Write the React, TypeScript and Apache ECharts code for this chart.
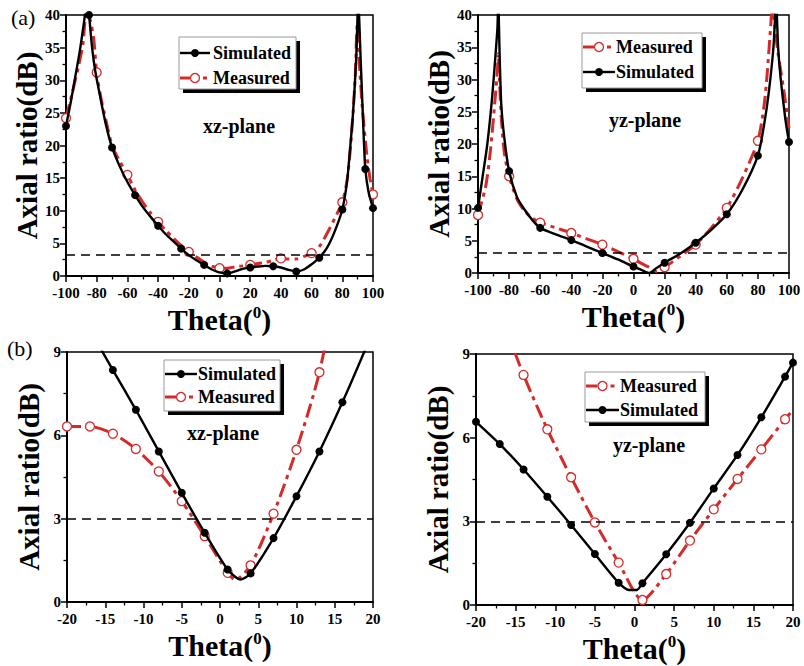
import React, { useEffect, useRef } from 'react';
import * as echarts from 'echarts';

const RED = '#d42a2a';
const BLACK = '#000000';
const FONT = '"Liberation Serif", "Times New Roman", serif';

// (a) xz-plane, wide range
const xzSimTheta = [-100, -97, -94, -91, -88.5, -86.3, -85, -83, -81, -78, -74, -70, -65, -60, -55, -50, -45, -40, -35, -30, -25, -20, -15, -10, -5, 0, 5, 10, 15, 20, 25, 30, 35, 40, 45, 50, 55, 60, 65, 70, 75, 80, 83, 85, 87, 89, 90.4, 92, 94, 95, 97, 100];
const xzSimAR = [23.0, 26.5, 30.5, 34.5, 38.5, 42, 40, 35, 31.5, 27.8, 23.2, 19.7, 16.8, 14.4, 12.4, 10.6, 9.1, 7.7, 6.4, 5.3, 4.2, 3.2, 2.4, 1.7, 1.0, 0.55, 0.4, 0.7, 1.1, 1.3, 1.45, 1.55, 1.5, 1.3, 0.95, 0.7, 1.0, 1.8, 2.8, 4.3, 6.8, 10.2, 14.3, 19.3, 25, 33, 42, 33, 21, 16.4, 13, 10.4];
const xzSimMarks = [-100, -85, -70, -55, -40, -25, -10, 5, 20, 35, 50, 65, 80, 95, 100];

const xzMeaTheta = [-100, -96, -92, -89, -86.5, -84, -82, -80, -77, -74, -70, -65, -60, -55, -50, -45, -40, -35, -30, -25, -20, -15, -10, -5, 0, 5, 10, 15, 20, 25, 30, 35, 40, 45, 50, 55, 60, 65, 70, 75, 80, 83, 85, 87, 88.5, 89.7, 91, 93, 96, 98, 100];
const xzMeaAR = [24.2, 28, 32, 35.5, 41, 39, 36.5, 31.2, 27, 23.9, 20, 17.6, 15.5, 13.2, 11.3, 9.7, 8.3, 7.0, 5.8, 4.7, 3.7, 2.9, 2.1, 1.5, 1.2, 1.2, 1.4, 1.55, 1.7, 1.9, 2.1, 2.4, 2.7, 2.6, 2.6, 3.0, 3.5, 4.5, 6.5, 8.8, 11.3, 14.5, 18.8, 25, 31, 38.5, 33, 26, 18.5, 15, 12.5];
const xzMeaMarks = [-100, -80, -60, -40, -20, 0, 20, 40, 60, 80, 100];

// (a) yz-plane, wide range
const yzSimTheta = [-100, -97, -94, -91, -89, -87.5, -87, -86, -85, -83, -80, -75, -70, -65, -60, -50, -40, -30, -20, -10, 0, 5, 10, 15, 20, 30, 40, 50, 60, 70, 80, 84, 87, 90, 91.7, 93, 94.5, 97.7, 100];
const yzSimAR = [10.1, 15, 20, 27, 33, 38, 42, 33, 26, 20.8, 15.8, 11.8, 9.8, 8.2, 7.0, 6.0, 5.1, 4.1, 3.1, 2.1, 1.0, 0.5, 0, 0.8, 1.6, 3.0, 4.7, 6.7, 9.1, 12.9, 18.2, 23, 28, 35, 42, 35, 30.5, 23.8, 20.3];
const yzSimMarks = [-100, -80, -60, -40, -20, 0, 20, 40, 60, 80, 100];

const yzMeaTheta = [-100, -95, -92, -89, -87.5, -87, -86, -85, -83, -80, -75, -70, -65, -60, -50, -40, -30, -20, -10, 0, 5, 10, 15, 20, 30, 40, 50, 60, 70, 80, 84, 86, 88, 89.5, 91, 93, 96.6, 100];
const yzMeaAR = [9.0, 13.5, 19, 27, 31.5, 34, 29, 24, 18.5, 15.0, 11.5, 9.6, 8.5, 7.8, 7.0, 6.2, 5.3, 4.4, 3.3, 2.2, 1.5, 0.9, 0.25, 0.9, 2.6, 4.4, 7.0, 10.1, 14.7, 20.5, 26, 31, 37.5, 42, 38, 34, 28.4, 22.5];
const yzMeaMarks = [-100, -80, -60, -40, -20, 0, 20, 40, 60, 80];

// (b) xz-plane, narrow range
const xzSimThetaB = [-20, -17, -14, -11, -8, -5, -2, 1, 2.7, 4, 7, 10, 13, 16, 19, 20];
const xzSimARB = [11.3, 9.8, 8.35, 6.92, 5.42, 3.93, 2.49, 1.17, 0.81, 1.03, 2.30, 3.81, 5.42, 7.19, 9.1, 9.8];
const xzSimMarksB = [-20, -17, -14, -11, -8, -5, -2, 1, 4, 7, 10, 13, 16, 19];

const xzMeaThetaB = [-20, -17, -14, -11, -8, -5, -2, 1, 2, 4, 7, 10, 13, 16];
const xzMeaARB = [6.32, 6.32, 6.06, 5.51, 4.70, 3.63, 2.37, 1.05, 0.8, 1.32, 3.18, 5.48, 8.27, 12.5];
const xzMeaMarksB = [-20, -17, -14, -11, -8, -5, -2, 1, 4, 7, 10, 13, 16];

// (b) yz-plane, narrow range
const yzSimThetaB = [-20, -17, -14, -11, -8, -5, -2, -0.7, 0.3, 1, 4, 7, 10, 13, 16, 19, 20];
const yzSimARB = [6.57, 5.77, 4.86, 3.88, 2.87, 1.83, 0.80, 0.54, 0.54, 0.78, 1.82, 2.95, 4.18, 5.38, 6.73, 8.19, 8.69];
const yzSimMarksB = [-20, -17, -14, -11, -8, -5, -2, 1, 4, 7, 10, 13, 16, 19, 20];

const yzMeaThetaB = [-20, -17, -14, -11, -8, -5, -2, 1, 4, 7, 10, 13, 16, 19, 20];
const yzMeaARB = [12.8, 10.5, 8.25, 6.30, 4.58, 2.96, 1.52, 0.18, 1.11, 2.31, 3.43, 4.52, 5.58, 6.66, 7.0];
const yzMeaMarksB = [-20, -17, -14, -11, -8, -5, -2, 1, 4, 7, 10, 13, 16, 19];

const thresholdWide = 3.2;
const thresholdNarrow = 3;

const grids = [
  { left: 66, top: 15, width: 307, height: 261 },
  { left: 478, top: 15, width: 311, height: 258 },
  { left: 67, top: 352, width: 306, height: 250 },
  { left: 476, top: 354, width: 317, height: 251 },
];

function build(theta: number[], ar: number[], marks: number[]) {
  return theta.map((t, i) => {
    const item: any = { value: [t, ar[i]] };
    if (!marks.includes(t)) item.symbol = 'none';
    return item;
  });
}

function simSeries(idx: number, theta: number[], ar: number[], marks: number[], threshold: number) {
  return {
    type: 'line',
    name: 'Simulated',
    xAxisIndex: idx,
    yAxisIndex: idx,
    data: build(theta, ar, marks),
    smooth: 0.25,
    symbol: 'circle',
    symbolSize: 8,
    lineStyle: { color: BLACK, width: 2.4 },
    itemStyle: { color: BLACK },
    clip: true,
    z: 3,
    markLine: {
      silent: true,
      symbol: 'none',
      label: { show: false },
      lineStyle: { color: BLACK, type: [9, 6], width: 1.6 },
      data: [{ yAxis: threshold }],
    },
  };
}

function meaSeries(idx: number, theta: number[], ar: number[], marks: number[]) {
  return {
    type: 'line',
    name: 'Measured',
    xAxisIndex: idx,
    yAxisIndex: idx,
    data: build(theta, ar, marks),
    smooth: 0.25,
    symbol: 'circle',
    symbolSize: 9,
    lineStyle: { color: RED, width: 3, type: [14, 5, 4, 5] },
    itemStyle: { color: '#ffffff', borderColor: RED, borderWidth: 1.3 },
    clip: true,
    z: 2,
  };
}

function xAxis(idx: number, min: number, max: number, interval: number) {
  return {
    type: 'value',
    gridIndex: idx,
    min,
    max,
    interval,
    name: 'Theta({s|0})',
    nameLocation: 'middle',
    nameGap: 28,
    nameTextStyle: {
      color: BLACK,
      fontFamily: FONT,
      fontWeight: 'bold',
      fontSize: 30,
      verticalAlign: 'top',
      rich: { s: { fontSize: 17, fontFamily: FONT, fontWeight: 'bold', color: BLACK, verticalAlign: 'top' } },
    },
    axisLine: { onZero: false, lineStyle: { color: BLACK, width: 2 } },
    axisTick: { show: true, inside: false, length: 6, lineStyle: { color: BLACK, width: 1.5 } },
    minorTick: { show: true, splitNumber: 2, length: 3.5, lineStyle: { color: BLACK, width: 1.3 } },
    axisLabel: { color: BLACK, fontFamily: FONT, fontWeight: 700, fontSize: 15, margin: 9 },
    splitLine: { show: false },
  };
}

function yAxis(idx: number, min: number, max: number, interval: number) {
  return {
    type: 'value',
    gridIndex: idx,
    min,
    max,
    interval,
    name: 'Axial ratio(dB)',
    nameLocation: 'middle',
    nameGap: 24,
    nameTextStyle: { color: BLACK, fontFamily: FONT, fontWeight: 'bold', fontSize: 29 },
    axisLine: { onZero: false, lineStyle: { color: BLACK, width: 2 } },
    axisTick: { show: true, inside: false, length: 6, lineStyle: { color: BLACK, width: 1.5 } },
    minorTick: { show: true, splitNumber: 2, length: 3.5, lineStyle: { color: BLACK, width: 1.3 } },
    axisLabel: { color: BLACK, fontFamily: FONT, fontWeight: 700, fontSize: 15, margin: 6 },
    splitLine: { show: false },
  };
}

type LegendEntry = { label: string; kind: 'sim' | 'mea' };

function legend(x: number, y: number, w: number, h: number, entries: LegendEntry[], rowY: number[], lineX: [number, number], textX: number) {
  const els: any[] = [
    { type: 'rect', shape: { x: x + 4, y: y + 4, width: w, height: h }, style: { fill: BLACK }, z: 10 },
    { type: 'rect', shape: { x, y, width: w, height: h }, style: { fill: '#ffffff', stroke: '#9a9a9a', lineWidth: 1 }, z: 11 },
  ];
  entries.forEach((e, i) => {
    const ly = rowY[i];
    const cx = (lineX[0] + lineX[1]) / 2;
    if (e.kind === 'sim') {
      els.push({ type: 'line', shape: { x1: lineX[0], y1: ly, x2: lineX[1], y2: ly }, style: { stroke: BLACK, lineWidth: 2.4 }, z: 12 });
      els.push({ type: 'circle', shape: { cx, cy: ly, r: 4 }, style: { fill: BLACK }, z: 13 });
    } else {
      els.push({ type: 'line', shape: { x1: lineX[0], y1: ly, x2: cx - 5, y2: ly }, style: { stroke: RED, lineWidth: 3 }, z: 12 });
      els.push({ type: 'line', shape: { x1: cx + 8, y1: ly, x2: cx + 12, y2: ly }, style: { stroke: RED, lineWidth: 3 }, z: 12 });
      els.push({ type: 'circle', shape: { cx, cy: ly, r: 4.5 }, style: { fill: '#ffffff', stroke: RED, lineWidth: 1.3 }, z: 13 });
    }
    els.push({
      type: 'text',
      x: textX,
      y: ly,
      style: { text: e.label, fill: BLACK, font: `bold 18px ${FONT}`, verticalAlign: 'middle' },
      z: 13,
    });
  });
  return els;
}

function plainText(text: string, x: number, y: number, size: number, bold: boolean, align: string) {
  return {
    type: 'text',
    x,
    y,
    style: {
      text,
      fill: BLACK,
      font: `${bold ? 'bold ' : ''}${size}px ${FONT}`,
      align,
      verticalAlign: 'middle',
    },
    z: 14,
  };
}

export default function App() {
  const ref = useRef<HTMLDivElement>(null);
  useEffect(() => {
    if (!ref.current) return;
    const chart = echarts.init(ref.current, undefined, { renderer: 'svg' });
    const option: any = {
      animation: false,
      backgroundColor: '#ffffff',
      grid: grids.map((g) => ({ ...g, show: true, borderColor: BLACK, borderWidth: 1.5, backgroundColor: 'transparent' })),
      xAxis: [xAxis(0, -100, 100, 20), xAxis(1, -100, 100, 20), xAxis(2, -20, 20, 5), xAxis(3, -20, 20, 5)],
      yAxis: [yAxis(0, 0, 40, 5), yAxis(1, 0, 40, 5), yAxis(2, 0, 9, 3), yAxis(3, 0, 9, 3)],
      series: [
        meaSeries(0, xzMeaTheta, xzMeaAR, xzMeaMarks),
        simSeries(0, xzSimTheta, xzSimAR, xzSimMarks, thresholdWide),
        meaSeries(1, yzMeaTheta, yzMeaAR, yzMeaMarks),
        simSeries(1, yzSimTheta, yzSimAR, yzSimMarks, thresholdWide),
        meaSeries(2, xzMeaThetaB, xzMeaARB, xzMeaMarksB),
        simSeries(2, xzSimThetaB, xzSimARB, xzSimMarksB, thresholdNarrow),
        meaSeries(3, yzMeaThetaB, yzMeaARB, yzMeaMarksB),
        simSeries(3, yzSimThetaB, yzSimARB, yzSimMarksB, thresholdNarrow),
      ],
      graphic: [
        ...legend(179, 37, 117, 52, [{ label: 'Simulated', kind: 'sim' }, { label: 'Measured', kind: 'mea' }], [53, 78], [180, 210], 213),
        ...legend(582, 33, 120, 55, [{ label: 'Measured', kind: 'mea' }, { label: 'Simulated', kind: 'sim' }], [47, 72], [583, 615], 616),
        ...legend(164, 360, 116, 51, [{ label: 'Simulated', kind: 'sim' }, { label: 'Measured', kind: 'mea' }], [374, 397], [165, 197], 198),
        ...legend(585, 372, 120, 50, [{ label: 'Measured', kind: 'mea' }, { label: 'Simulated', kind: 'sim' }], [386, 410], [586, 619], 620),
        plainText('xz-plane', 239, 126, 20, true, 'center'),
        plainText('yz-plane', 645, 120, 20, true, 'center'),
        plainText('xz-plane', 223, 433, 20, true, 'center'),
        plainText('yz-plane', 649, 445, 20, true, 'center'),
        plainText('(a)', 11, 17, 22, false, 'left'),
        plainText('(b)', 7, 348, 22, false, 'left'),
      ],
    };
    chart.setOption(option);
    return () => chart.dispose();
  }, []);
  return <div ref={ref} style={{ position: 'absolute', left: 0, top: 0, width: 804, height: 666 }} />;
}
